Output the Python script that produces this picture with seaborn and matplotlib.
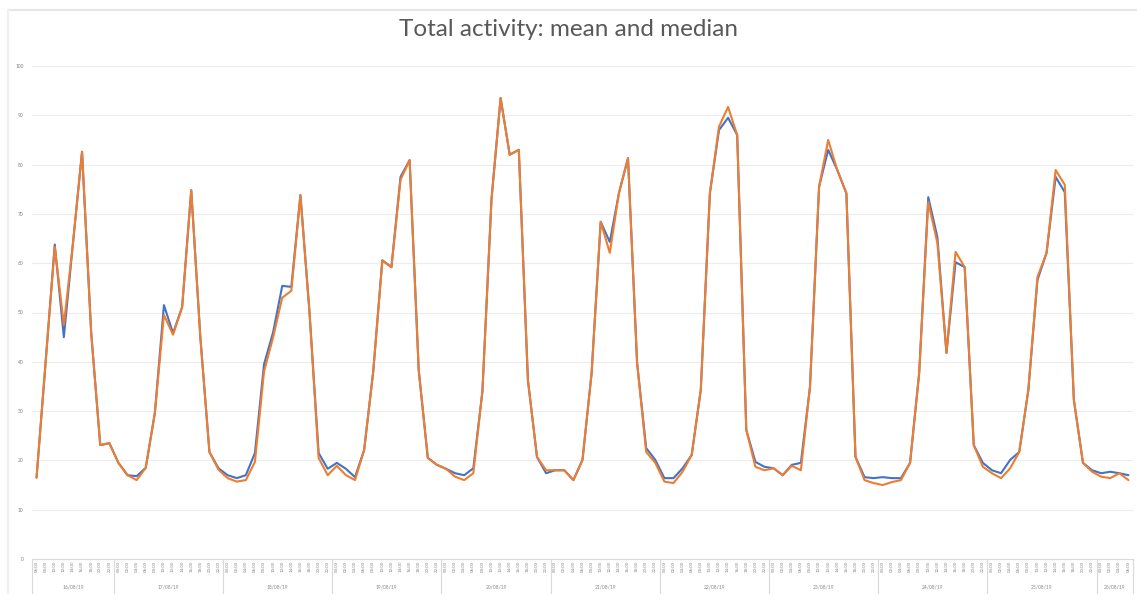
import numpy as np
import pandas as pd
import matplotlib
matplotlib.use("Agg")
import matplotlib.pyplot as plt
import seaborn as sns
from matplotlib.lines import Line2D

# Bi-hourly readings, 16/08/19 06:00 to 26/08/19 06:00
day_labels = ["16/08/19", "17/08/19", "18/08/19", "19/08/19", "20/08/19", "21/08/19",
              "22/08/19", "23/08/19", "24/08/19", "25/08/19", "26/08/19"]
day_hours = [list(range(6, 24, 2))] + [list(range(0, 24, 2))] * 9 + [list(range(0, 8, 2))]

mean = [
    16.5, 40, 63.8, 45, 64, 82.6, 46, 23.1, 23.5,
    19.5, 17, 16.8, 18.5, 29.6, 51.5, 45.8, 51.1, 74.8, 45, 21.7, 18.4,
    17, 16.4, 17, 21.5, 39.5, 46, 55.4, 55.2, 73.8, 50, 21.5, 18.3,
    19.5, 18.3, 16.6, 22.1, 38, 60.6, 59.2, 77.5, 80.9, 38.3, 20.5, 19.1,
    18.3, 17.4, 17, 18.4, 34, 73, 93.5, 82, 83, 36.3, 20.7, 17.4,
    18, 18, 16, 20.1, 37.7, 68.4, 64.3, 74.2, 81.3, 39.8, 22.5, 20.1,
    16.4, 16.4, 18.4, 21.1, 34.3, 74.2, 87, 89.5, 86, 26.2, 19.7, 18.7,
    18.4, 17, 19.1, 19.5, 34.9, 75.5, 83, 78.9, 74.2, 20.7, 16.6, 16.4,
    16.6, 16.4, 16.4, 19.5, 37.7, 73.4, 65.3, 41.8, 60.2, 59.2, 23.1, 19.5,
    18, 17.4, 20.1, 21.7, 34.3, 56.6, 62.1, 77.5, 74.4, 32.3, 19.5, 18,
    17.4, 17.7, 17.4, 17.0,
]
median = [
    16.5, 40, 63.3, 47.5, 64, 82.6, 46, 23.1, 23.5,
    19.5, 17, 16.0, 18.5, 29.6, 49.5, 45.5, 51.1, 74.8, 45, 21.7, 18.1,
    16.4, 15.7, 16.0, 19.7, 38, 45, 53, 54.4, 73.8, 50, 20.5, 17.0,
    18.9, 17.0, 16.0, 22.1, 38, 60.5, 59.2, 76.9, 80.9, 38.3, 20.5, 19.1,
    18.3, 16.7, 16.0, 17.4, 34, 73, 93.5, 82, 83, 36.3, 20.7, 18.0,
    18, 18, 16, 20.1, 37.7, 68.4, 62.1, 74.2, 81.3, 39.8, 21.7, 19.5,
    15.7, 15.4, 17.7, 21.1, 34.3, 74.2, 87.7, 91.7, 86, 26.2, 18.7, 18.0,
    18.4, 17, 18.9, 18.0, 34.9, 75.5, 85, 78.9, 74.2, 20.7, 16.0, 15.4,
    15.0, 15.6, 16.0, 19.5, 37.7, 72.4, 64.1, 41.8, 62.3, 59.2, 23.1, 18.7,
    17.4, 16.4, 18.4, 21.7, 34.3, 57.2, 62.1, 78.9, 75.9, 32.3, 19.5, 17.7,
    16.7, 16.4, 17.4, 16.0,
]

# time labels and day groups
times = []
for d, hrs in zip(day_labels, day_hours):
    for h in hrs:
        times.append(f"{h:02d}:00")

n = len(mean)
df = pd.DataFrame({
    "idx": list(range(n)) * 2,
    "value": mean + median,
    "series": ["Mean"] * n + ["Median"] * n,
})

sns.set_theme(style="white")
plt.rcParams["font.family"] = ["Lato", "DejaVu Sans"]

fig = plt.figure(figsize=(11.37, 5.94), dpi=100)
ax = fig.add_axes([32 / 1137, 35 / 594, 1101 / 1137, 493 / 594])

sns.lineplot(data=df, x="idx", y="value", hue="series",
             palette={"Mean": "#4472C4", "Median": "#ED7D31"},
             linewidth=1.5, legend=False, ax=ax)

ax.set_xlim(-0.5, n - 0.5)
ax.set_ylim(0, 100)
ax.set_yticks(range(0, 101, 10))
ax.tick_params(axis="y", labelsize=3.5, labelcolor="#7f7f7f", length=0, pad=6)
ax.grid(axis="y", color="#ececec", linewidth=0.8)
ax.set_axisbelow(True)

ax.set_xticks(range(n))
ax.set_xticklabels(times, rotation=90, fontsize=3.2, color="#8a8a8a")
ax.tick_params(axis="x", length=0, pad=1.5)
ax.set_xlabel("")
ax.set_ylabel("")

for s in ["top", "right", "left"]:
    ax.spines[s].set_visible(False)
ax.spines["bottom"].set_color("#d9d9d9")
ax.spines["bottom"].set_linewidth(0.8)

# date group labels and separators
start = 0
for d, hrs in zip(day_labels, day_hours):
    end = start + len(hrs)
    ax.text((start + end - 1) / 2, -0.056, d, transform=ax.get_xaxis_transform(),
            ha="center", va="center", fontsize=3.5, color="#8a8a8a")
    ax.axvline(start - 0.5, ymin=-0.071, ymax=0, color="#d9d9d9", linewidth=0.8, clip_on=False)
    start = end
ax.axvline(n - 0.5, ymin=-0.071, ymax=0, color="#d9d9d9", linewidth=0.8, clip_on=False)

fig.suptitle("Total activity: mean and median", y=0.968, fontsize=17.5, color="#595959")

# chart area border
fig.add_artist(Line2D([8 / 1137, 1], [1 - 10 / 594] * 2, color="#e6e6e6", linewidth=1.5))
fig.add_artist(Line2D([8 / 1137] * 2, [0, 1 - 10 / 594], color="#f0f0f0", linewidth=1.5))

fig.savefig("out.png", dpi=100)
